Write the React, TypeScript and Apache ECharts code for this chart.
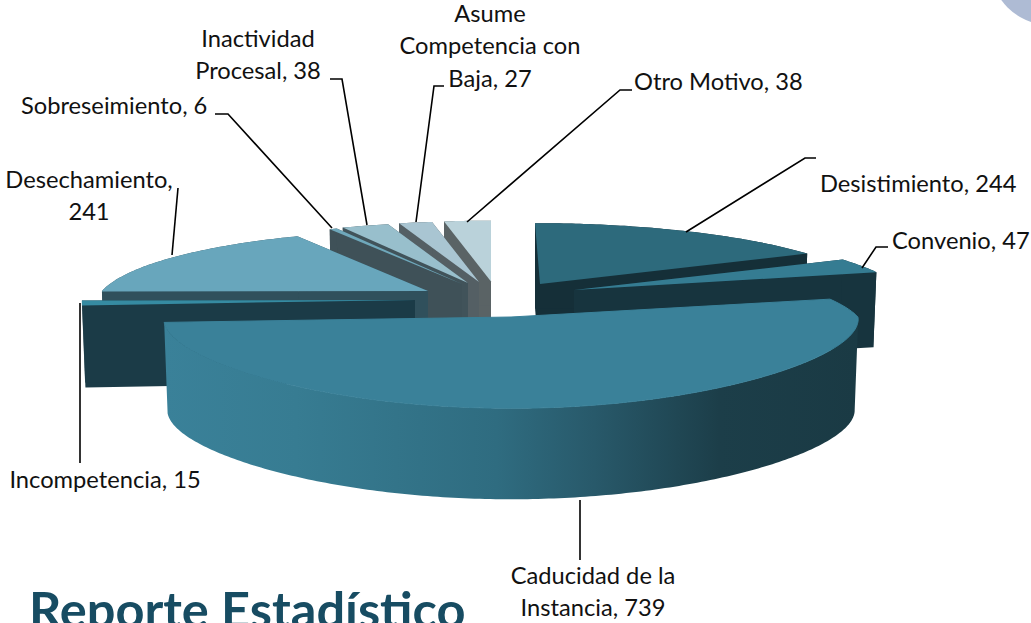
import React, { useEffect, useRef } from "react";
import * as echarts from "echarts";

const categories = [
  "Desistimiento",
  "Convenio",
  "Caducidad de la\nInstancia",
  "Incompetencia",
  "Desechamiento",
  "Sobreseimiento",
  "Inactividad\nProcesal",
  "Asume\nCompetencia con\nBaja",
  "Otro Motivo",
];
const values = [244, 47, 739, 15, 241, 6, 38, 27, 38];
const separators = [", ", ", ", ", ", ", ", ",\n", ", ", ", ", ", ", ", "];

const titleText = "Reporte Estadístico";

// Painter's order: far slices first
const drawOrder = [8, 7, 6, 5, 0, 4, 1, 3, 2];

// [apexX, apexY, radiusX, skew, wallHeight]
const sliceGeometry = [
  [540, 284, 330, 5, 85],
  [574, 290, 329, 0, 75],
  [511, 317, 347, 0, 91],
  [415, 300, 333, 0, 82],
  [428, 291, 326, 0, 85],
  [462, 284, 330, 0, 85],
  [468, 283, 330, 0, 85],
  [479, 282, 330, 0, 85],
  [491, 281.5, 330, 0, 85],
];
const topColors = ["#2d6a7c", "#357c92", "#3a8199", "#368ba2", "#68a6bc", "#6fa8bb", "#98bfcc", "#a9c5d2", "#bad2da"];
const wallColors = ["#152f38", "#17343e", "#1a3a44", "#1b3b47", "#30505c", "#3f5158", "#41535a", "#545f64", "#5a6365"];

const RADIUS_Y = 73;
const PERSPECTIVE_FAR = 0.2;
const PERSPECTIVE_NEAR_X = 0.03;
const PERSPECTIVE_NEAR_Y = 0.2;
const WALL_TAPER = 0.01;
const FRONT_SLICE = 2;

const leaders: number[][][] = [
  [[686, 232], [805, 158], [816, 158]],
  [[862, 268], [876, 247], [888, 247]],
  [[580, 500], [580, 560]],
  [[80, 303], [80, 463]],
  [[172, 255], [178, 188]],
  [[332, 228], [228, 114], [215, 114]],
  [[367, 225], [342, 79], [330, 79]],
  [[416, 222], [434, 86], [444, 86]],
  [[467, 222], [620, 90], [632, 90]],
];
// [x, y, align] of each label block (y = vertical middle)
const labelPlaces: [number, number, string][] = [
  [820, 183, "left"],
  [892, 240, "left"],
  [593, 591, "center"],
  [105, 479, "center"],
  [89, 195, "center"],
  [21, 105, "left"],
  [258, 54, "center"],
  [490, 45, "center"],
  [634, 81, "left"],
];

const total = values.reduce((a, b) => a + b, 0);
const startAngles: number[] = [];
values.reduce((acc, v, i) => {
  startAngles[i] = (acc / total) * Math.PI * 2;
  return acc + v;
}, 0);

function project(i: number, theta: number): number[] {
  const [ax, ay, rx, skew] = sliceGeometry[i];
  const u = Math.sin(theta);
  const v = Math.cos(theta);
  const sy = 1 / (1 + (v > 0 ? PERSPECTIVE_FAR : PERSPECTIVE_NEAR_Y) * v);
  const sx = 1 / (1 + (v > 0 ? PERSPECTIVE_FAR : PERSPECTIVE_NEAR_X) * v);
  return [ax + rx * u * sx - skew * v, ay - RADIUS_Y * v * sy];
}

function renderSlice(_params: any, api: any) {
  const i = api.value(0) as number;
  const value = api.value(1) as number;
  const a0 = startAngles[i];
  const a1 = a0 + (value / total) * Math.PI * 2;
  const [ax, ay, , , h] = sliceGeometry[i];
  const apex = [ax, ay];
  const steps = Math.max(3, Math.ceil((a1 - a0) / 0.015));
  const arc: number[][] = [];
  for (let k = 0; k <= steps; k++) arc.push(project(i, a0 + ((a1 - a0) * k) / steps));
  const down = (p: number[]) => [p[0] + (ax - p[0]) * WALL_TAPER, p[1] + h];
  const first = arc[0];
  const last = arc[arc.length - 1];
  const wallFill = wallColors[i];
  const children: any[] = [];
  if (i !== FRONT_SLICE) {
    children.push({
      type: "polygon",
      shape: { points: [first, apex, down(apex), down(first)] },
      style: { fill: wallFill },
    });
    children.push({
      type: "polygon",
      shape: { points: [last, apex, down(apex), down(last)] },
      style: { fill: wallFill },
    });
  }
  // outer wall: only the part of the rim between its extreme x positions
  let maxK = 0;
  let minK = 0;
  arc.forEach((p, k) => {
    if (p[0] > arc[maxK][0]) maxK = k;
    if (p[0] < arc[minK][0]) minK = k;
  });
  const rim = arc.slice(Math.min(maxK, minK), Math.max(maxK, minK) + 1);
  const outerFill =
    i === FRONT_SLICE
      ? new echarts.graphic.LinearGradient(0, 0, 1, 0, [
          { offset: 0, color: "#3a8199" },
          { offset: 0.19, color: "#377c92" },
          { offset: 0.48, color: "#2f6c80" },
          { offset: 0.62, color: "#28596a" },
          { offset: 0.8, color: "#1c3e49" },
          { offset: 1, color: "#1a3a44" },
        ])
      : wallFill;
  if (rim.length > 1) {
    children.push({
      type: "polygon",
      shape: { points: [...rim, ...rim.slice().reverse().map(down)] },
      style: { fill: outerFill },
    });
  }
  children.push({
    type: "polygon",
    shape: { points: [apex, ...arc] },
    style:
      i === FRONT_SLICE
        ? { fill: topColors[i], stroke: topColors[i], lineWidth: 1 }
        : { fill: topColors[i] },
  });
  return { type: "group", children };
}

export default function App() {
  const ref = useRef<HTMLDivElement>(null);
  useEffect(() => {
    const chart = echarts.init(ref.current!, undefined, { renderer: "svg" });
    const labelFont = { fontFamily: "Lato", fontSize: 23.7, lineHeight: 32.5, fill: "#111111" };
    chart.setOption({
      animation: false,
      backgroundColor: "#ffffff",
      title: {
        text: titleText,
        left: 24,
        top: 578,
        textStyle: { fontFamily: "Lato", fontWeight: "bold", fontSize: 50.5, color: "#174c62" },
      },
      graphic: [
        {
          type: "circle",
          silent: true,
          z: 1,
          shape: { cx: 1050, cy: -35, r: 60 },
          style: { fill: "#aebbd4" },
        },
        ...leaders.map((points) => ({
          type: "polyline",
          silent: true,
          z: 10,
          shape: { points },
          style: { stroke: "#000000", lineWidth: 1.6, fill: "none" },
        })),
        ...categories.map((name, i) => ({
          type: "text",
          silent: true,
          z: 11,
          x: labelPlaces[i][0],
          y: labelPlaces[i][1],
          style: {
            ...labelFont,
            text: name + separators[i] + values[i],
            textAlign: labelPlaces[i][2],
            textVerticalAlign: "middle",
          },
        })),
      ],
      series: [
        {
          type: "custom",
          coordinateSystem: "none",
          silent: true,
          renderItem: renderSlice,
          data: drawOrder.map((i) => [i, values[i]]),
          encode: { value: [1] },
        },
      ],
    });
    return () => chart.dispose();
  }, []);
  return (
    <div
      ref={ref}
      style={{ position: "fixed", left: 0, top: 0, width: 1031, height: 623 }}
    />
  );
}
